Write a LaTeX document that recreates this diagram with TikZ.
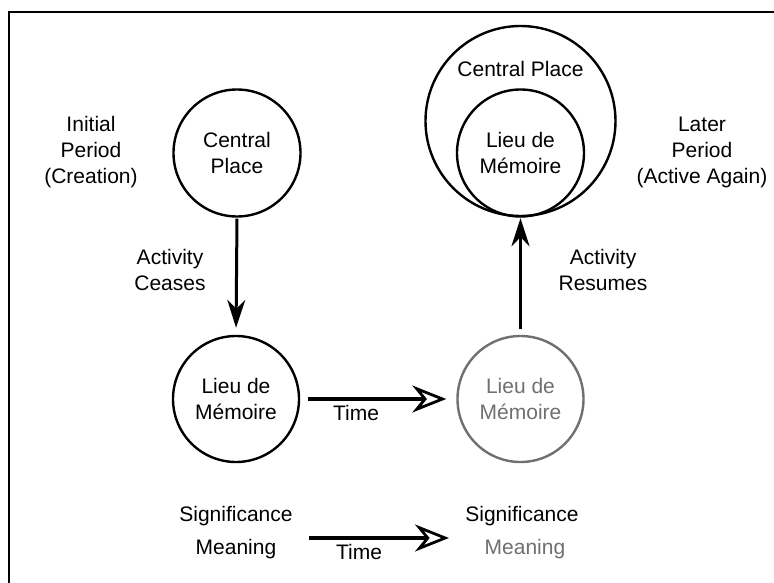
\documentclass[tikz,border=0pt]{standalone}
\usepackage{fontspec}
\setmainfont{Liberation Sans}
\usetikzlibrary{arrows.meta}
\definecolor{fadegray}{HTML}{707070}
\tikzset{
  txt/.style={align=center, inner sep=0pt, font=\fontsize{21}{26}\selectfont},
  place/.style={circle, draw, line width=2.4pt, txt},
  fadeplace/.style={place, draw=fadegray, text=fadegray},
  vertarrow/.style={draw=black, line width=3pt, -{Stealth[length=28pt, width=18pt, inset=9pt]}},
  timearrow/.style={draw=black, line width=4.5pt, -{Stealth[open, length=34pt, width=27pt, inset=11pt, line width=2.8pt]}},
  frameline/.style={line width=2pt}
}
\begin{document}
\begin{tikzpicture}[x=1pt, y=-1pt]
\useasboundingbox (0,0) rectangle (774,583);
\fill[white] (0,0) rectangle (774,583);
\draw[frameline] (9,583) -- (9,12) -- (774,12);

% left column
\node[place, minimum size=127pt] (cp1) at (237,153) {Central\\Place};
\node[place, minimum size=126pt] (lm1) at (236,399) {Lieu de\\Mémoire};
\node[txt] (init) at (91,152) {Initial\\Period\\(Creation)};
\node[txt] (cease) at (170,270) {Activity\\Ceases};

% right column
\node[place, minimum size=190pt] (cp2) at (520.5,121) {};
\node[txt] (cp2lab) at (520.5,69) {Central Place};
\node[place, minimum size=127pt] (lm3) at (520.5,153) {Lieu de\\Mémoire};
\node[fadeplace, minimum size=126pt] (lm2) at (520.5,399) {Lieu de\\Mémoire};
\node[txt] (later) at (702,152) {Later\\Period\\(Active Again)};
\node[txt] (resume) at (603,270) {Activity\\Resumes};

% arrows
\draw[vertarrow, shorten <=1pt, shorten >=7pt] (cp1.south) -- (lm1.north);
\draw[vertarrow, shorten <=6pt, shorten >=1pt] (lm2.north) -- (cp2.south);
\draw[timearrow, shorten <=8pt, shorten >=10pt] (lm1.east) -- (lm2.west);
\node[txt] (time1) at (356,413) {Time};

% bottom row
\node[txt] (sig1) at (236,516) {Significance};
\node[txt] (mean1) at (236,549) {Meaning};
\node[txt] (sig2) at (522,516) {Significance};
\node[txt, text=fadegray] (mean2) at (525,549) {Meaning};
\coordinate (ta) at (309,538);
\coordinate (tb) at (449,538);
\draw[timearrow] (ta) -- (tb);
\node[txt] (time2) at (359,552) {Time};
\end{tikzpicture}
\end{document}
